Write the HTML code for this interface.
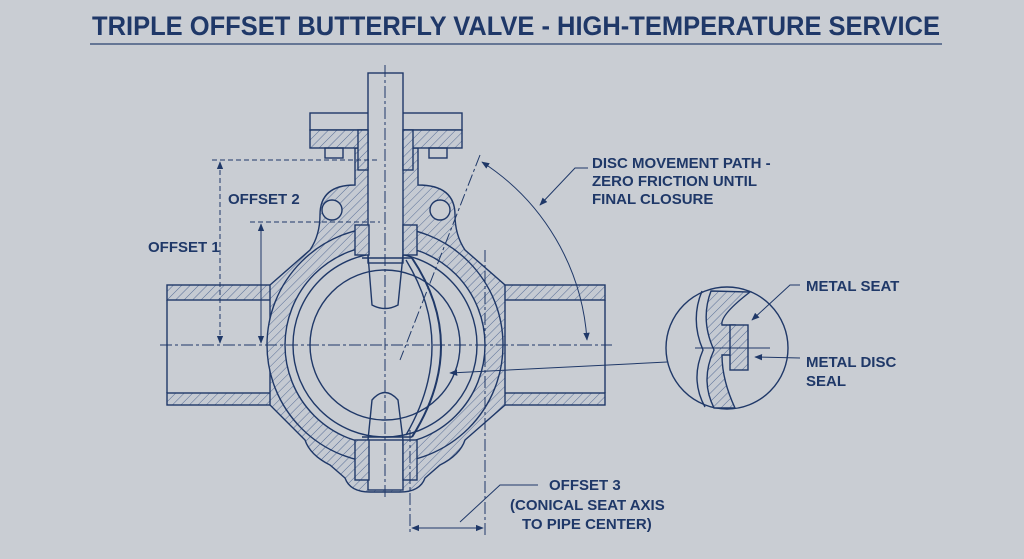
<!DOCTYPE html>
<html><head><meta charset="utf-8"><style>
html,body{margin:0;padding:0;background:#c9cdd3;}
svg{display:block;}
text{font-family:"Liberation Sans Narrow","Liberation Sans",sans-serif;font-weight:bold;fill:#1f3868;}
</style></head><body>
<svg width="1024" height="559" viewBox="0 0 1024 559" xmlns="http://www.w3.org/2000/svg">
<defs>
<pattern id="h" patternUnits="userSpaceOnUse" width="6" height="6" patternTransform="rotate(45)">
<rect width="6" height="6" fill="#c5cad2"/><line x1="0" y1="0" x2="0" y2="6" stroke="#3a5587" stroke-width="0.8"/>
</pattern>
<marker id="a" viewBox="0 0 10 10" refX="9" refY="5" markerWidth="8" markerHeight="8" orient="auto-start-reverse"><path d="M0,1 L10,5 L0,9z" fill="#1f3868"/></marker>
</defs>
<rect width="1024" height="559" fill="#c9cdd3"/>
<text x="92" y="35" font-size="27" textLength="848" lengthAdjust="spacingAndGlyphs">TRIPLE OFFSET BUTTERFLY VALVE - HIGH-TEMPERATURE SERVICE</text>
<line x1="90" y1="44" x2="942" y2="44" stroke="#2a4270" stroke-width="1.2"/>
<g stroke="#1f3868" stroke-width="1.4" fill="none">
<!-- pipe -->
<rect x="167" y="285" width="438" height="15" fill="url(#h)"/>
<rect x="167" y="393" width="438" height="12" fill="url(#h)"/>
<line x1="167" y1="300" x2="167" y2="393"/>
<line x1="605" y1="300" x2="605" y2="393"/>
<!-- body -->
<path d="M270,285 L310,250 Q320,235 320,215 Q320,185 355,185 L355,148 L418,148 L418,185 Q455,185 455,215 Q455,235 465,250 L505,285 L505,405 L465,440 Q460,455 440,465 L425,478 Q420,492 400,492 L370,492 Q350,492 345,478 L330,465 Q310,455 305,440 L270,405 Z" fill="url(#h)"/>
<circle cx="385" cy="345" r="118" fill="url(#h)"/>
<circle cx="385" cy="345" r="100" fill="#c9cdd3"/>
<circle cx="385" cy="345" r="92"/>
<circle cx="385" cy="345" r="75"/>
<!-- flange -->
<rect x="310" y="113" width="152" height="17"/>
<rect x="310" y="130" width="152" height="18" fill="url(#h)"/>
<rect x="325" y="148" width="18" height="10"/><rect x="429" y="148" width="18" height="10"/>
<circle cx="332" cy="210" r="10" fill="#c9cdd3"/><circle cx="440" cy="210" r="10" fill="#c9cdd3"/>
<!-- stem -->
<rect x="368" y="73" width="35" height="190" fill="#c9cdd3"/>
<rect x="358" y="130" width="10" height="40" fill="url(#h)"/><rect x="403" y="130" width="10" height="40" fill="url(#h)"/>
<rect x="355" y="225" width="14" height="30" fill="url(#h)"/><rect x="403" y="225" width="14" height="30" fill="url(#h)"/>
<path d="M368,255 L372,305 Q385,312 398,305 L403,255"/>
<rect x="368" y="440" width="35" height="50" fill="#c9cdd3"/>
<rect x="355" y="440" width="14" height="40" fill="url(#h)"/><rect x="403" y="440" width="14" height="40" fill="url(#h)"/>
<path d="M368,440 L372,400 Q385,385 398,400 L403,440"/>
<line x1="362" y1="258" x2="412" y2="258"/><line x1="362" y1="437" x2="412" y2="437"/>
<!-- disc -->
<path d="M412,258 Q470,345 412,437" stroke-width="2"/>
<path d="M406,260 Q458,345 406,435"/>
<!-- centerlines -->
<g stroke-dasharray="12,3,3,3" stroke-width="1">
<line x1="160" y1="345" x2="612" y2="345"/>
<line x1="385" y1="65" x2="385" y2="500"/>
<line x1="480" y1="155" x2="400" y2="360"/>
<line x1="485" y1="250" x2="485" y2="535"/>
<line x1="410" y1="430" x2="410" y2="535"/>
</g>
<!-- dimensions -->
<g stroke-dasharray="5,3" stroke-width="1"><line x1="212" y1="160" x2="380" y2="160"/><line x1="250" y1="222" x2="380" y2="222"/></g>
<line x1="220" y1="162" x2="220" y2="343" marker-start="url(#a)" marker-end="url(#a)" stroke-dasharray="5,3" stroke-width="1"/>
<line x1="261" y1="224" x2="261" y2="343" marker-start="url(#a)" marker-end="url(#a)" stroke-width="1"/>
<line x1="412" y1="528" x2="483" y2="528" marker-start="url(#a)" marker-end="url(#a)" stroke-width="1"/>
<path d="M482,162 A230,230 0 0 1 587,340" marker-start="url(#a)" marker-end="url(#a)" stroke-width="1"/>
<path d="M540,205 L575,168 L588,168" stroke-width="1" marker-start="url(#a)"/>
<path d="M460,522 L500,485 L538,485" stroke-width="1"/>
<line x1="667" y1="362" x2="450" y2="373" marker-end="url(#a)" stroke-width="1"/>
<!-- detail -->
<circle cx="727" cy="348" r="61" fill="#c9cdd3"/>
<path d="M711,291 Q700,320 714,350 Q700,380 714,408 L735,408 Q722,380 722,355 L735,355 L735,325 L722,325 Q720,315 750,292 Z" fill="url(#h)"/>
<rect x="730" y="325" width="18" height="45" fill="url(#h)"/>
<path d="M702,291 Q690,320 703,350 Q690,380 705,407"/>
<line x1="695" y1="348" x2="770" y2="348" stroke-width="1"/>
<path d="M752,320 L790,285 L800,285" stroke-width="1" marker-start="url(#a)"/>
<line x1="755" y1="357" x2="800" y2="358" stroke-width="1" marker-start="url(#a)"/>
</g>
<text x="228" y="204" font-size="15">OFFSET 2</text>
<text x="148" y="252" font-size="15">OFFSET 1</text>
<text x="592" y="168" font-size="15">DISC MOVEMENT PATH -</text>
<text x="592" y="186" font-size="15">ZERO FRICTION UNTIL</text>
<text x="592" y="204" font-size="15">FINAL CLOSURE</text>
<text x="806" y="291" font-size="15">METAL SEAT</text>
<text x="806" y="367" font-size="15">METAL DISC</text>
<text x="806" y="386" font-size="15">SEAL</text>
<text x="549" y="490" font-size="15">OFFSET 3</text>
<text x="510" y="510" font-size="15">(CONICAL SEAT AXIS</text>
<text x="522" y="529" font-size="15">TO PIPE CENTER)</text>
</svg>
</body></html>
